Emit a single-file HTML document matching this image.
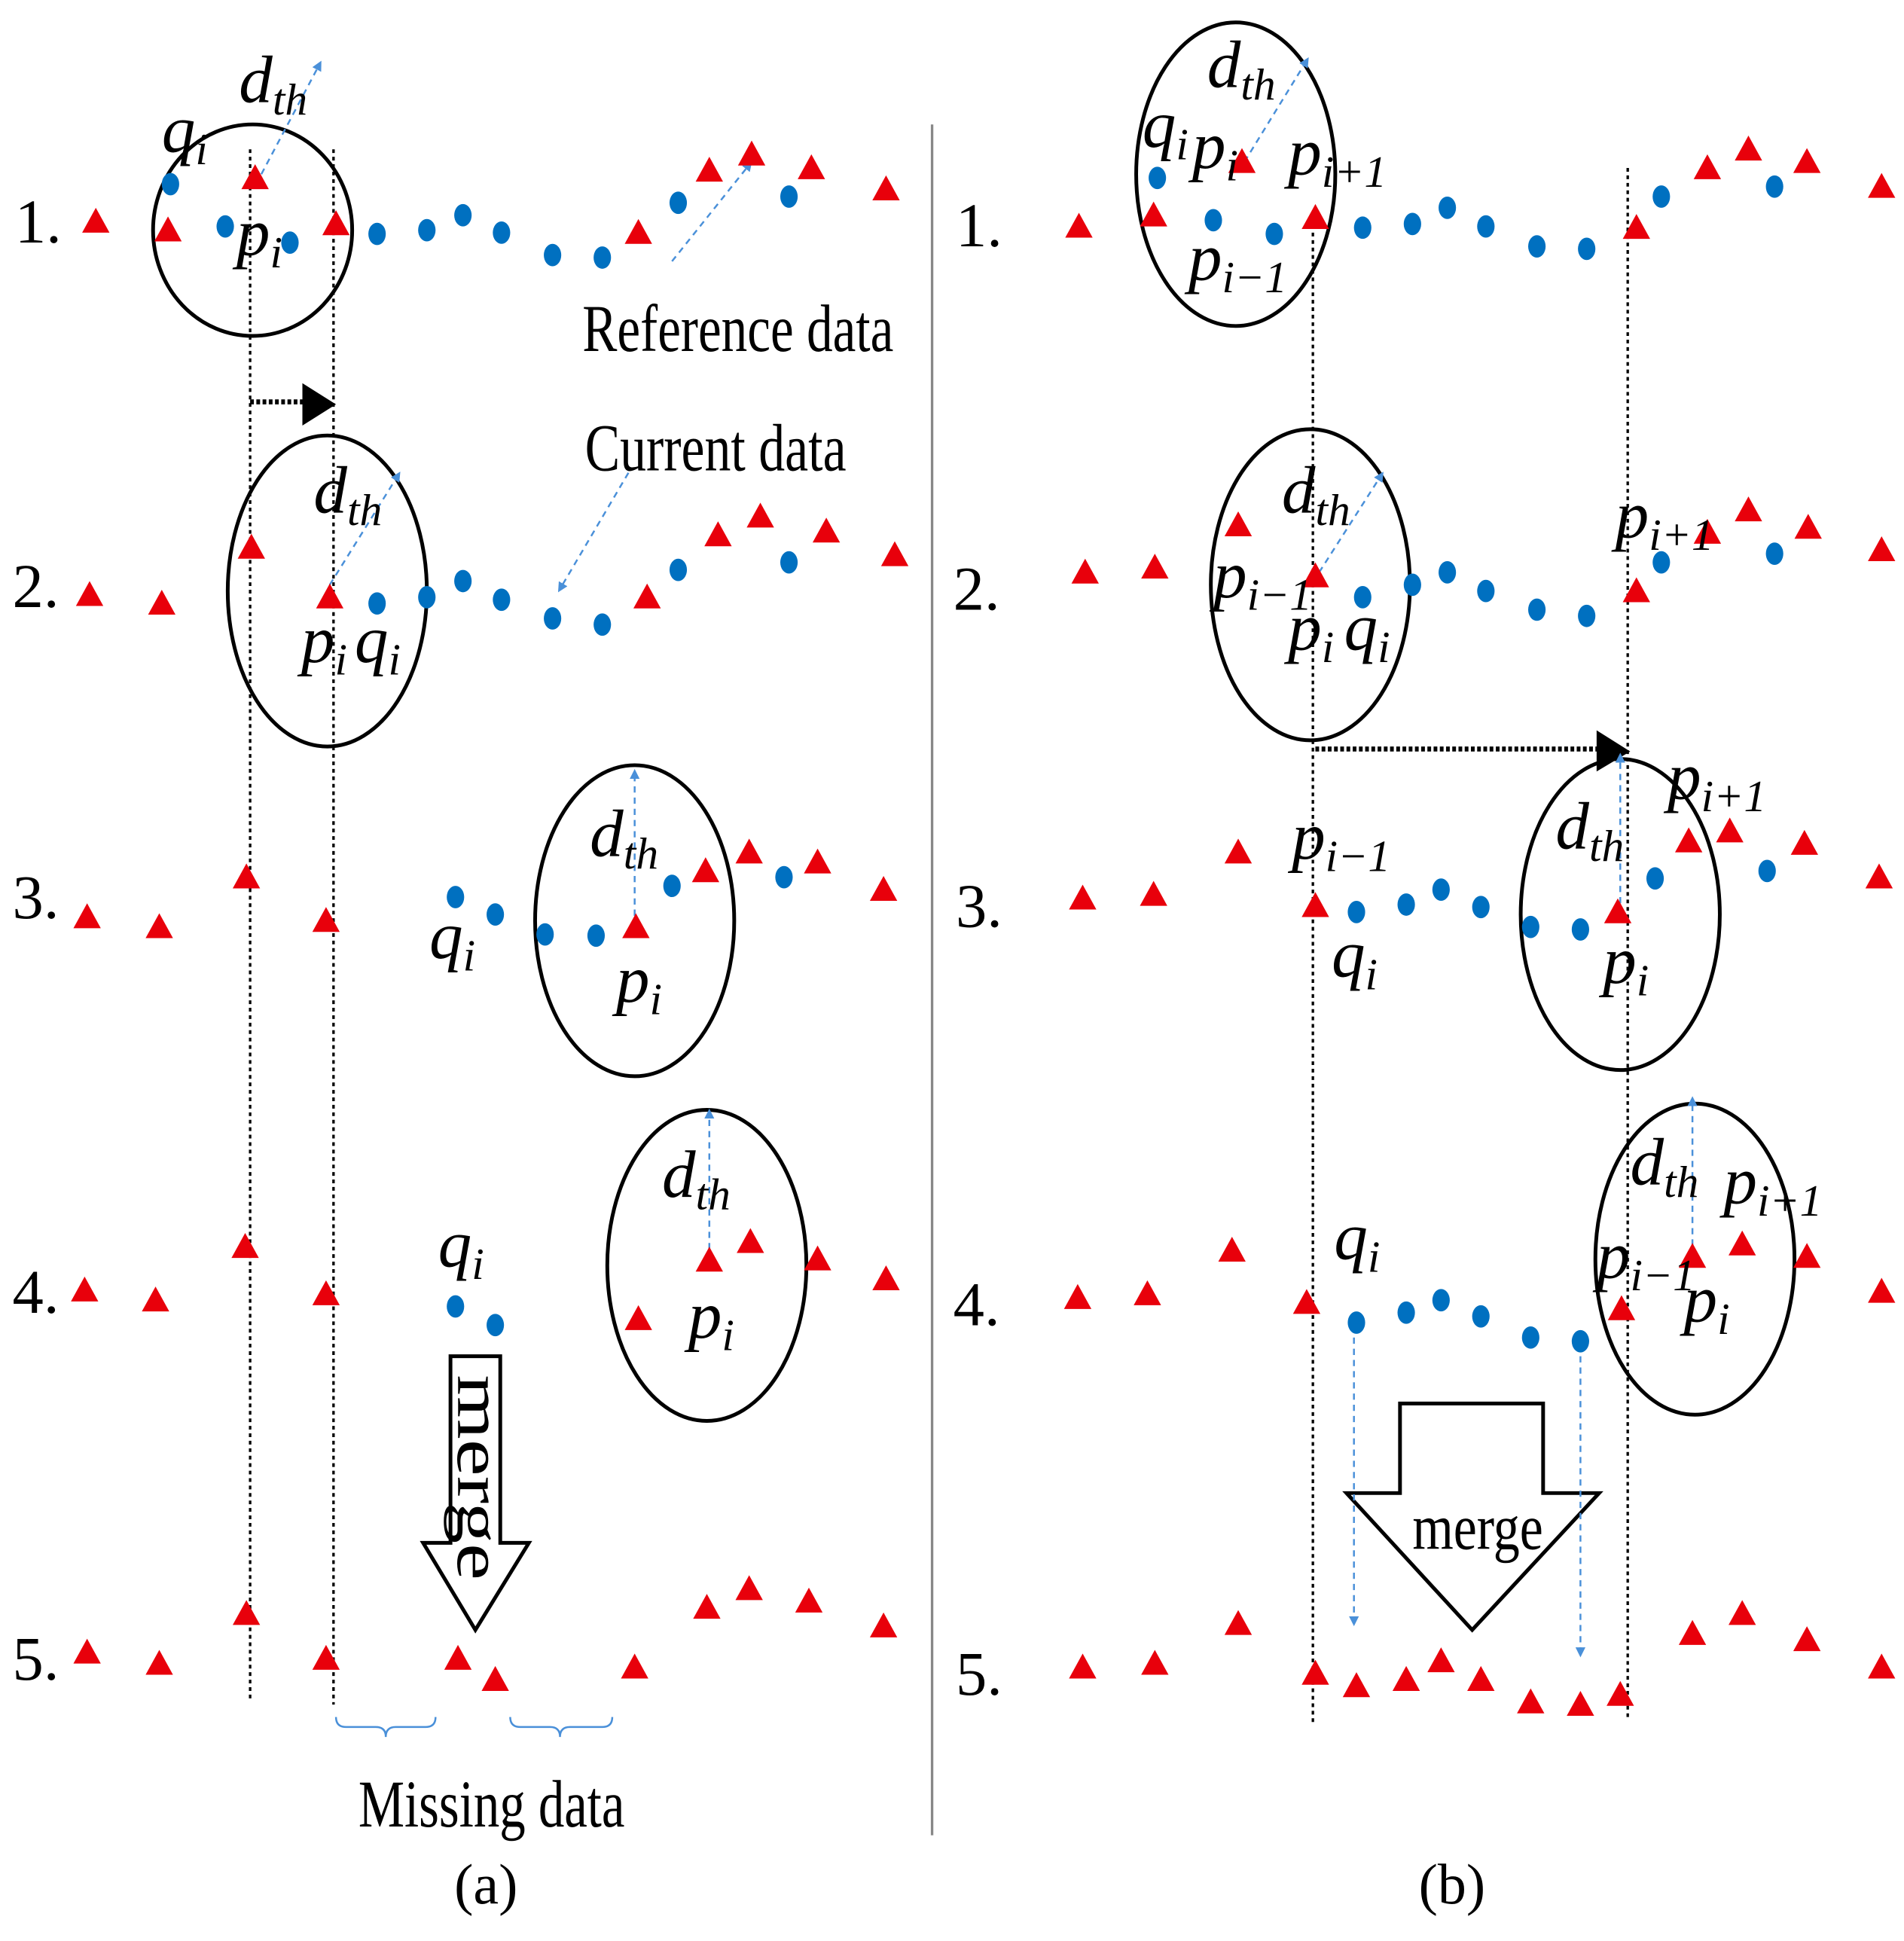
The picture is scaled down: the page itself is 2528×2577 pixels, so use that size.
<!DOCTYPE html>
<html><head><meta charset="utf-8"><style>
html,body{margin:0;padding:0;background:#fff;}
svg{display:block;}
text{font-family:"Liberation Serif",serif;fill:#000;}
.l{font-style:italic;font-size:54px;}
.s{font-size:36px;}
.n{font-size:50px;}
</style></head><body>
<svg width="2528" height="2577" viewBox="0 0 1530 1560" preserveAspectRatio="none" xmlns="http://www.w3.org/2000/svg">
<defs>
<path id="t" d="M0,-11 L11,9 L-11,9 Z" fill="#e8000b"/>
<ellipse id="d" rx="7" ry="9" fill="#0070c0"/>
<marker id="bh" markerWidth="8" markerHeight="8" refX="1" refY="4" orient="auto" markerUnits="userSpaceOnUse"><path d="M0,0 L8,4 L0,8 Z" fill="#4a90d9"/></marker>
</defs>
<rect width="1530" height="1560" fill="#fff"/>
<line x1="749" y1="100" x2="749" y2="1475" stroke="#888" stroke-width="2"/>
<g stroke="#000" stroke-width="2" stroke-dasharray="3,3">
<line x1="201" y1="120" x2="201" y2="1365"/>
<line x1="268" y1="120" x2="268" y2="1370"/>
<line x1="1055" y1="175" x2="1055" y2="1385"/>
<line x1="1308" y1="135" x2="1308" y2="1380"/>
</g>
<g stroke="#000" stroke-width="4" stroke-dasharray="3,2">
<line x1="201" y1="323" x2="245" y2="323"/>
<line x1="1057" y1="602" x2="1285" y2="602"/>
</g>
<path d="M243,308 L270,325 L243,342 Z" fill="#000"/>
<path d="M1283,587 L1310,604 L1283,620 Z" fill="#000"/>
<g fill="none" stroke="#000" stroke-width="3">
<ellipse cx="203" cy="185" rx="80" ry="85"/>
<ellipse cx="263" cy="475" rx="80" ry="125"/>
<ellipse cx="510" cy="740" rx="80" ry="125"/>
<ellipse cx="568" cy="1017" rx="80" ry="125"/>
<ellipse cx="993" cy="140" rx="80" ry="122"/>
<ellipse cx="1053" cy="470" rx="80" ry="125"/>
<ellipse cx="1302" cy="735" rx="80" ry="125"/>
<ellipse cx="1362" cy="1012" rx="80" ry="125"/>
<path d="M362,1090 L402,1090 L402,1240 L425,1240 L382,1310 L340,1240 L362,1240 Z"/>
<path d="M1125,1128 L1240,1128 L1240,1200 L1285,1200 L1183,1310 L1082,1200 L1125,1200 Z"/>
</g>
<g stroke="#4a90d9" stroke-width="1.5" stroke-dasharray="5,4" fill="none" marker-end="url(#bh)">
<line x1="210" y1="140" x2="255" y2="55"/>
<line x1="265" y1="470" x2="318" y2="385"/>
<line x1="540" y1="210" x2="600" y2="135"/>
<line x1="505" y1="380" x2="452" y2="470"/>
<line x1="510" y1="745" x2="510" y2="625"/>
<line x1="570" y1="1013" x2="570" y2="898"/>
<line x1="1000" y1="130" x2="1048" y2="52"/>
<line x1="1060" y1="460" x2="1108" y2="385"/>
<line x1="1302" y1="735" x2="1302" y2="612"/>
<line x1="1360" y1="1010" x2="1360" y2="888"/>
<line x1="1088" y1="1075" x2="1088" y2="1300"/>
<line x1="1270" y1="1090" x2="1270" y2="1325"/>
</g>
<g stroke="#4a90d9" stroke-width="1.5" fill="none">
<path d="M270,1380 Q270,1388 278,1388 L302,1388 Q310,1388 310,1396 Q310,1388 318,1388 L342,1388 Q350,1388 350,1380"/>
<path d="M410,1380 Q410,1388 418,1388 L442,1388 Q450,1388 450,1396 Q450,1388 458,1388 L484,1388 Q492,1388 492,1380"/>
</g>
<g>
<use href="#t" x="77" y="178"/><use href="#t" x="135" y="185"/><use href="#t" x="205" y="143"/><use href="#t" x="270" y="180"/><use href="#t" x="513" y="187"/><use href="#t" x="570" y="137"/><use href="#t" x="604" y="124"/><use href="#t" x="652" y="135"/><use href="#t" x="712" y="152"/>
<use href="#t" x="72" y="478"/><use href="#t" x="130" y="485"/><use href="#t" x="202" y="440"/><use href="#t" x="265" y="480"/><use href="#t" x="520" y="480"/><use href="#t" x="577" y="430"/><use href="#t" x="611" y="415"/><use href="#t" x="664" y="427"/><use href="#t" x="719" y="446"/>
<use href="#t" x="70" y="737"/><use href="#t" x="128" y="745"/><use href="#t" x="198" y="705"/><use href="#t" x="262" y="740"/><use href="#t" x="511" y="745"/><use href="#t" x="567" y="700"/><use href="#t" x="602" y="685"/><use href="#t" x="657" y="693"/><use href="#t" x="710" y="715"/>
<use href="#t" x="68" y="1037"/><use href="#t" x="125" y="1045"/><use href="#t" x="197" y="1002"/><use href="#t" x="262" y="1040"/><use href="#t" x="513" y="1060"/><use href="#t" x="570" y="1013"/><use href="#t" x="603" y="998"/><use href="#t" x="657" y="1012"/><use href="#t" x="712" y="1028"/>
<use href="#t" x="70" y="1328"/><use href="#t" x="128" y="1337"/><use href="#t" x="198" y="1297"/><use href="#t" x="262" y="1333"/><use href="#t" x="368" y="1333"/><use href="#t" x="398" y="1350"/><use href="#t" x="510" y="1340"/><use href="#t" x="568" y="1292"/><use href="#t" x="602" y="1277"/><use href="#t" x="650" y="1287"/><use href="#t" x="710" y="1307"/>
<use href="#t" x="867" y="182"/><use href="#t" x="927" y="173"/><use href="#t" x="998" y="130"/><use href="#t" x="1057" y="175"/><use href="#t" x="1315" y="183"/><use href="#t" x="1372" y="135"/><use href="#t" x="1405" y="120"/><use href="#t" x="1452" y="130"/><use href="#t" x="1512" y="150"/>
<use href="#t" x="872" y="460"/><use href="#t" x="928" y="456"/><use href="#t" x="995" y="422"/><use href="#t" x="1057" y="463"/><use href="#t" x="1315" y="475"/><use href="#t" x="1372" y="428"/><use href="#t" x="1405" y="410"/><use href="#t" x="1453" y="424"/><use href="#t" x="1512" y="442"/>
<use href="#t" x="870" y="722"/><use href="#t" x="927" y="719"/><use href="#t" x="995" y="685"/><use href="#t" x="1057" y="728"/><use href="#t" x="1300" y="733"/><use href="#t" x="1357" y="676"/><use href="#t" x="1390" y="668"/><use href="#t" x="1450" y="678"/><use href="#t" x="1510" y="705"/>
<use href="#t" x="866" y="1043"/><use href="#t" x="922" y="1040"/><use href="#t" x="990" y="1005"/><use href="#t" x="1050" y="1047"/><use href="#t" x="1303" y="1052"/><use href="#t" x="1360" y="1010"/><use href="#t" x="1400" y="1000"/><use href="#t" x="1452" y="1010"/><use href="#t" x="1512" y="1038"/>
<use href="#t" x="870" y="1340"/><use href="#t" x="928" y="1337"/><use href="#t" x="995" y="1305"/><use href="#t" x="1057" y="1345"/><use href="#t" x="1090" y="1355"/><use href="#t" x="1130" y="1350"/><use href="#t" x="1158" y="1335"/><use href="#t" x="1190" y="1350"/><use href="#t" x="1230" y="1368"/><use href="#t" x="1270" y="1370"/><use href="#t" x="1302" y="1362"/><use href="#t" x="1360" y="1313"/><use href="#t" x="1400" y="1297"/><use href="#t" x="1452" y="1318"/><use href="#t" x="1512" y="1340"/>
</g>
<g>
<use href="#d" x="137" y="148"/><use href="#d" x="181" y="182"/><use href="#d" x="233" y="195"/><use href="#d" x="303" y="188"/><use href="#d" x="343" y="185"/><use href="#d" x="372" y="173"/><use href="#d" x="403" y="187"/><use href="#d" x="444" y="205"/><use href="#d" x="484" y="207"/><use href="#d" x="545" y="163"/><use href="#d" x="634" y="158"/>
<use href="#d" x="303" y="485"/><use href="#d" x="343" y="480"/><use href="#d" x="372" y="467"/><use href="#d" x="403" y="482"/><use href="#d" x="444" y="497"/><use href="#d" x="484" y="502"/><use href="#d" x="545" y="458"/><use href="#d" x="634" y="452"/>
<use href="#d" x="366" y="721"/><use href="#d" x="398" y="735"/><use href="#d" x="438" y="751"/><use href="#d" x="479" y="752"/><use href="#d" x="540" y="712"/><use href="#d" x="630" y="705"/>
<use href="#d" x="366" y="1050"/><use href="#d" x="398" y="1065"/>
<use href="#d" x="930" y="143"/><use href="#d" x="975" y="177"/><use href="#d" x="1024" y="188"/><use href="#d" x="1095" y="183"/><use href="#d" x="1135" y="180"/><use href="#d" x="1163" y="167"/><use href="#d" x="1194" y="182"/><use href="#d" x="1235" y="198"/><use href="#d" x="1275" y="200"/><use href="#d" x="1335" y="158"/><use href="#d" x="1426" y="150"/>
<use href="#d" x="1095" y="480"/><use href="#d" x="1135" y="470"/><use href="#d" x="1163" y="460"/><use href="#d" x="1194" y="475"/><use href="#d" x="1235" y="490"/><use href="#d" x="1275" y="495"/><use href="#d" x="1335" y="452"/><use href="#d" x="1426" y="445"/>
<use href="#d" x="1090" y="733"/><use href="#d" x="1130" y="727"/><use href="#d" x="1158" y="715"/><use href="#d" x="1190" y="729"/><use href="#d" x="1230" y="745"/><use href="#d" x="1270" y="747"/><use href="#d" x="1330" y="706"/><use href="#d" x="1420" y="700"/>
<use href="#d" x="1090" y="1063"/><use href="#d" x="1130" y="1055"/><use href="#d" x="1158" y="1045"/><use href="#d" x="1190" y="1058"/><use href="#d" x="1230" y="1075"/><use href="#d" x="1270" y="1078"/>
</g>
<g class="n">
<text x="12" y="195">1.</text><text x="10" y="488">2.</text><text x="10" y="738">3.</text><text x="10" y="1055">4.</text><text x="10" y="1350">5.</text>
<text x="768" y="198">1.</text><text x="766" y="490">2.</text><text x="768" y="745">3.</text><text x="766" y="1065">4.</text><text x="768" y="1362">5.</text>
<text x="468" y="282" font-size="54" textLength="250" lengthAdjust="spacingAndGlyphs">Reference data</text>
<text x="470" y="378" font-size="54" textLength="210" lengthAdjust="spacingAndGlyphs">Current data</text>
<text x="288" y="1468" font-size="54" textLength="214" lengthAdjust="spacingAndGlyphs">Missing data</text>
<text x="365" y="1530" font-size="46">(a)</text>
<text x="1140" y="1530" font-size="46">(b)</text>
<text x="1135" y="1245" font-size="52" textLength="105" lengthAdjust="spacingAndGlyphs">merge</text>
<text transform="translate(368,1105) rotate(90)" font-size="52" textLength="165" lengthAdjust="spacingAndGlyphs">merge</text>
</g>
<g class="l">
<text x="130" y="122">q<tspan class="s" dy="10">i</tspan></text>
<text x="192" y="82">d<tspan class="s" dy="10">th</tspan></text>
<text x="190" y="205">p<tspan class="s" dy="10">i</tspan></text>
<text x="252" y="412">d<tspan class="s" dy="10">th</tspan></text>
<text x="242" y="532">p<tspan class="s" dy="10">i</tspan></text>
<text x="285" y="532">q<tspan class="s" dy="10">i</tspan></text>
<text x="474" y="688">d<tspan class="s" dy="10">th</tspan></text>
<text x="345" y="770">q<tspan class="s" dy="10">i</tspan></text>
<text x="495" y="805">p<tspan class="s" dy="10">i</tspan></text>
<text x="532" y="962">d<tspan class="s" dy="10">th</tspan></text>
<text x="553" y="1075">p<tspan class="s" dy="10">i</tspan></text>
<text x="352" y="1018">q<tspan class="s" dy="10">i</tspan></text>
<text x="918" y="118">q<tspan class="s" dy="10">i</tspan></text>
<text x="958" y="135">p<tspan class="s" dy="10">i</tspan></text>
<text x="970" y="70">d<tspan class="s" dy="10">th</tspan></text>
<text x="1035" y="140">p<tspan class="s" dy="10">i+1</tspan></text>
<text x="955" y="225">p<tspan class="s" dy="10">i−1</tspan></text>
<text x="1030" y="412">d<tspan class="s" dy="10">th</tspan></text>
<text x="975" y="480">p<tspan class="s" dy="10">i−1</tspan></text>
<text x="1035" y="522">p<tspan class="s" dy="10">i</tspan></text>
<text x="1080" y="522">q<tspan class="s" dy="10">i</tspan></text>
<text x="1298" y="432">p<tspan class="s" dy="10">i+1</tspan></text>
<text x="1038" y="690">p<tspan class="s" dy="10">i−1</tspan></text>
<text x="1070" y="785">q<tspan class="s" dy="10">i</tspan></text>
<text x="1250" y="682">d<tspan class="s" dy="10">th</tspan></text>
<text x="1288" y="790">p<tspan class="s" dy="10">i</tspan></text>
<text x="1340" y="642">p<tspan class="s" dy="10">i+1</tspan></text>
<text x="1072" y="1012">q<tspan class="s" dy="10">i</tspan></text>
<text x="1310" y="952">d<tspan class="s" dy="10">th</tspan></text>
<text x="1385" y="967">p<tspan class="s" dy="10">i+1</tspan></text>
<text x="1283" y="1027">p<tspan class="s" dy="10">i−1</tspan></text>
<text x="1353" y="1062">p<tspan class="s" dy="10">i</tspan></text>
</g>
</svg>
</body></html>
